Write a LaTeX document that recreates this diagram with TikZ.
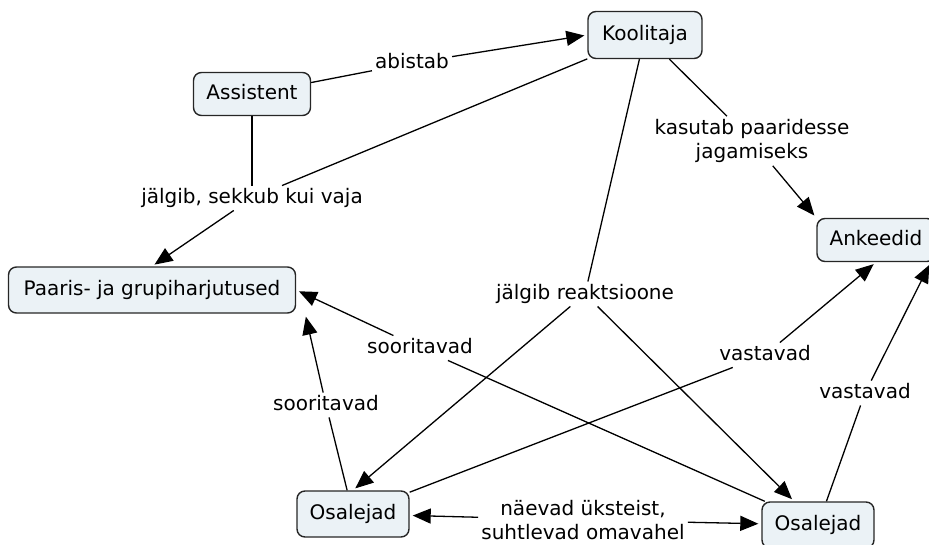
\documentclass[tikz,border=0pt]{standalone}
\usepackage{fontspec}
\setmainfont{DejaVu Sans}
\usetikzlibrary{arrows.meta,calc}
\definecolor{conceptfill}{HTML}{EBF2F6}
\definecolor{conceptline}{HTML}{262626}

\begin{document}
\begin{tikzpicture}[x=1pt,y=-1pt,
  every node/.style={font=\fontsize{20}{24}\selectfont},
  concept/.style={draw=conceptline, line width=1.4pt, fill=conceptfill,
    rounded corners=8pt, inner sep=0pt, text height=14.5pt, text depth=4pt},
  phrase/.style={inner sep=3pt, text height=14.5pt, text depth=4pt},
  phrase2/.style={inner sep=3pt, align=center},
  link/.style={line width=1.3pt, draw=black},
  linkto/.style={link, -{Triangle[length=18pt,width=15pt]}, shorten >=3pt},
]
\useasboundingbox (0,0) rectangle (929,544);

% concepts
\node[concept, minimum width=114pt, minimum height=47pt] (koolitaja) at (645,35) {Koolitaja};
\node[concept, minimum width=117pt, minimum height=43pt] (assistent) at (252,94) {Assistent};
\node[concept, minimum width=287pt, minimum height=46pt] (paaris) at (152,290) {Paaris- ja grupiharjutused};
\node[concept, minimum width=118pt, minimum height=43pt] (ankeedid) at (876,240) {Ankeedid};
\node[concept, minimum width=112pt, minimum height=46pt] (osaL) at (353,514) {Osalejad};
\node[concept, minimum width=112pt, minimum height=46pt] (osaR) at (818,525) {Osalejad};

% linking phrases
\node[phrase] (abistab) at (412,63) {abistab};
\node[phrase] (sekkub) at (252,198) {jälgib, sekkub kui vaja};
\node[phrase2] (kasutab) at (752,141) {kasutab paaridesse\\jagamiseks};
\node[phrase] (reakts) at (585,294) {jälgib reaktsioone};
\node[phrase] (soor1) at (420,348) {sooritavad};
\node[phrase] (soor2) at (326,405) {sooritavad};
\node[phrase] (vast1) at (765,355) {vastavad};
\node[phrase] (vast2) at (865,393) {vastavad};
\node[phrase2] (naevad) at (583,520) {näevad üksteist,\\suhtlevad omavahel};

% connectors
\draw[link] (assistent) -- (abistab);
\draw[linkto] (abistab) -- (koolitaja.west);
\draw[link] (assistent) -- (sekkub);
\draw[link] (koolitaja) -- (sekkub);
\draw[linkto] (sekkub) -- (paaris.north);
\draw[link] (koolitaja) -- (kasutab);
\draw[linkto] (kasutab) -- (ankeedid.north west);
\draw[link] (koolitaja) -- (reakts);
\draw[linkto] (reakts) -- (osaL.north);
\draw[linkto] (reakts) -- (osaR);
\draw[link] (osaR) -- (soor1);
\draw[linkto] (soor1) -- (paaris.east);
\draw[link] (osaL) -- (soor2);
\draw[linkto] (soor2) -- ($(paaris.south east)+(9,0)$);
\draw[link] (osaL) -- (vast1);
\draw[linkto] (vast1) -- (ankeedid.south);
\draw[link] (osaR) -- (vast2);
\draw[linkto] (vast2) -- ($(ankeedid.south east)+(-5,0)$);
\draw[linkto] (naevad) -- (osaL);
\draw[linkto] (naevad) -- (osaR);
\end{tikzpicture}
\end{document}
